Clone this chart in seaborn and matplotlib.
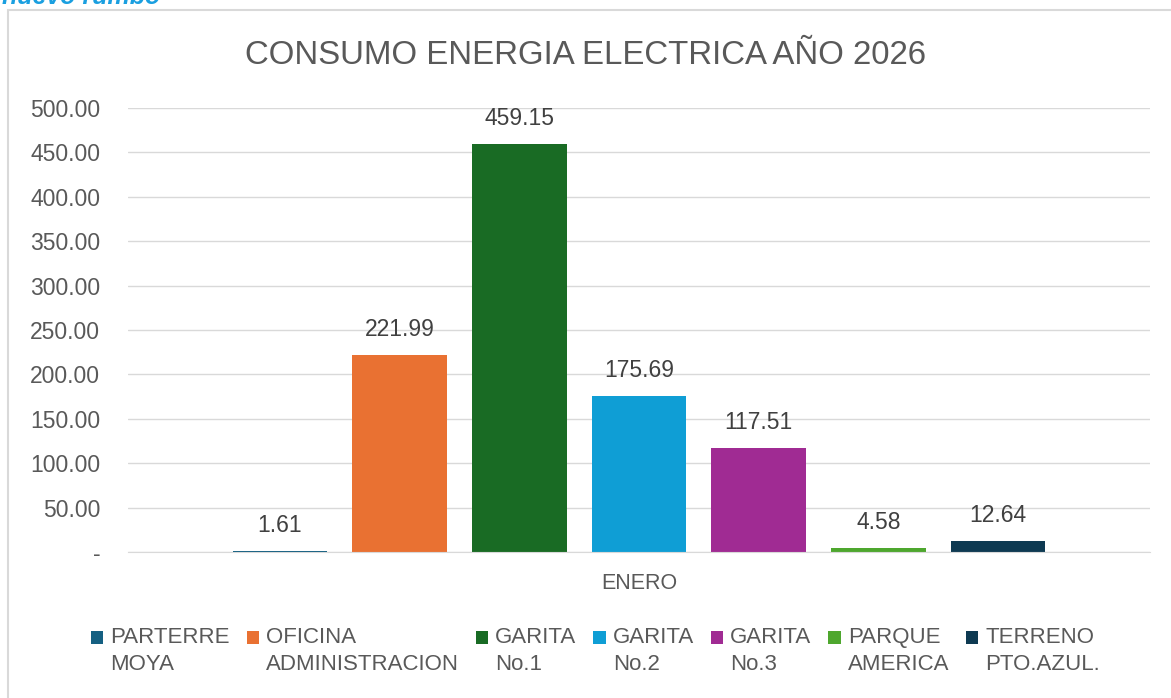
import pandas as pd
import matplotlib.pyplot as plt
import seaborn as sns
from matplotlib.patches import Rectangle

# data
mes = ["ENERO"]
sitios = ["PARTERRE\nMOYA", "OFICINA\nADMINISTRACION", "GARITA\nNo.1", "GARITA\nNo.2",
          "GARITA\nNo.3", "PARQUE\nAMERICA", "TERRENO\nPTO.AZUL."]
consumo = [1.61, 221.99, 459.15, 175.69, 117.51, 4.58, 12.64]
colores = ["#156082", "#E97132", "#196B24", "#0F9ED5", "#A02B93", "#4EA72E", "#0E3A52"]
y_ticks = [0, 50, 100, 150, 200, 250, 300, 350, 400, 450, 500]

df = pd.DataFrame({"Mes": mes * len(sitios), "Sitio": sitios, "Consumo": consumo})

sns.set_style("white")
plt.rcParams["font.family"] = ["Liberation Sans", "DejaVu Sans"]
gris = "#595959"

fig = plt.figure(figsize=(11.71, 6.98), dpi=100)
ax = fig.add_axes([128 / 1171, 146 / 698, 1022 / 1171, 444 / 698])

sns.barplot(data=df, x="Mes", y="Consumo", hue="Sitio", palette=colores,
            width=0.82, gap=0.21, legend=True, ax=ax, saturation=1, linewidth=0)

for cont in ax.containers:
    ax.bar_label(cont, fmt="%.2f", padding=10, fontsize=16.5, color="#404040")

ax.set_ylim(0, 500)
ax.set_yticks(y_ticks)
ax.set_yticklabels(["-" if v == 0 else f"{v:.2f}" for v in y_ticks])
ax.tick_params(axis="y", labelsize=16.5, colors=gris, length=0, pad=20)
ax.tick_params(axis="x", labelsize=15.5, colors=gris, length=0, pad=15)
ax.yaxis.grid(True, color="#D9D9D9", linewidth=1)
ax.set_axisbelow(True)
for s in ["top", "right", "left"]:
    ax.spines[s].set_visible(False)
ax.spines["bottom"].set_color("#D9D9D9")
ax.set_xlabel("")
ax.set_ylabel("")

leg = ax.legend(loc="upper left", bbox_to_anchor=(-37 / 1022, -75 / 444), ncol=7,
                frameon=False, fontsize=16, labelcolor=gris, borderpad=0,
                borderaxespad=0, handlelength=0.55, handleheight=0.55,
                handletextpad=0.32, columnspacing=0.76)
for t in leg.get_texts():
    t.set_linespacing(1.4)
# put the square next to the first line of each label
for h in leg.legend_handles:
    h.set_linewidth(0)
    h.set_y(h.get_y() + 10)

fig.text(0.5, 1 - 56 / 698, "CONSUMO ENERGIA ELECTRICA AÑO 2026", ha="center", va="center",
         fontsize=23.8, color=gris)

# chart frame and cut-off header
fig.patches.append(Rectangle((8 / 1171, -0.01), 1.0, 1 - 10 / 698 + 0.01,
                             transform=fig.transFigure, fill=False,
                             edgecolor="#D9D9D9", linewidth=1.5))
fig.text(0.002, 1 - 4 / 698, "nuevo rumbo", ha="left", va="baseline", fontsize=18,
         fontweight="bold", fontstyle="italic", color="#1A9FE0")

fig.savefig("out.png", dpi=100)
